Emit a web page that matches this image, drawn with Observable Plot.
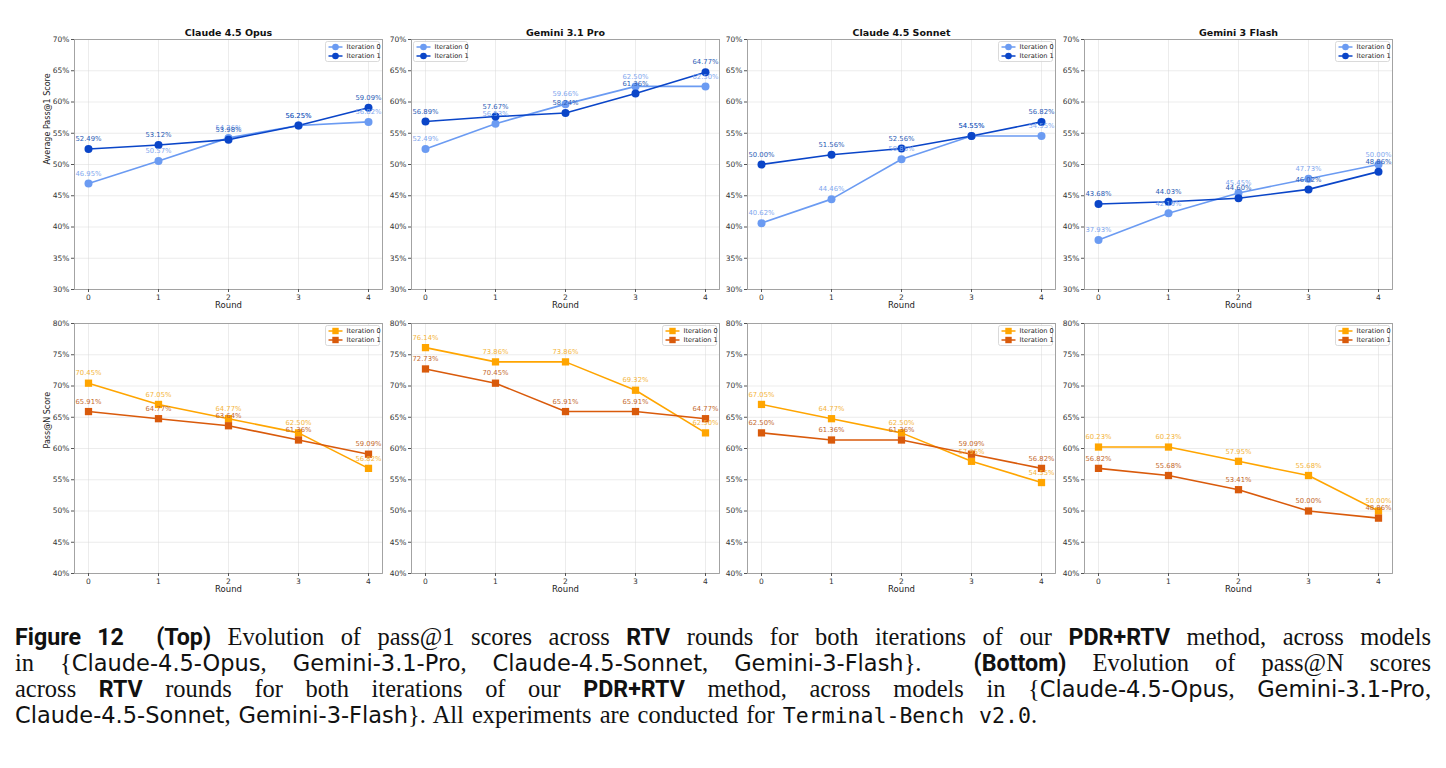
<!DOCTYPE html>
<html>
<head>
<meta charset="utf-8">
<script src="https://cdn.jsdelivr.net/npm/d3@7"></script>
<script src="https://cdn.jsdelivr.net/npm/@observablehq/plot@0.6"></script>
<style>
  html, body { margin: 0; padding: 0; background: #fff; }
  #root { position: relative; width: 1446px; height: 768px; overflow: hidden; }
  .panel { position: absolute; }
  .panel svg { background: transparent !important; overflow: visible; }
  #caption { position: absolute; left: 15px; top: 624px; width: 1416px; font-family: "Liberation Serif", "DejaVu Serif", serif; font-size: 20px; line-height: 26px; color: #111; }
  #caption .ln { white-space: nowrap; height: 26px; }
  #caption .ln span.inner { display: inline-block; }
  #caption b { font-family: "Roboto", "Inter", sans-serif; font-weight: 700; font-size: 0.95em; }
  #caption .sf { font-family: "DejaVu Sans", "Noto Sans", sans-serif; font-size: 0.92em; }
  #caption .tt { font-family: "DejaVu Sans Mono", "Liberation Mono", monospace; font-size: 0.88em; }
</style>
</head>
<body>
<div id="root">
  <div id="caption">
    <div class="ln" data-w="1416"><b>Figure 12&nbsp; (Top)</b> Evolution of pass@1 scores across <b>RTV</b> rounds for both iterations of our <b>PDR+RTV</b> method, across models</div>
    <div class="ln" data-w="1416">in {<span class="sf">Claude-4.5-Opus</span>, <span class="sf">Gemini-3.1-Pro</span>, <span class="sf">Claude-4.5-Sonnet</span>, <span class="sf">Gemini-3-Flash</span>}. &nbsp;<b>(Bottom)</b> Evolution of pass@N scores</div>
    <div class="ln" data-w="1416">across <b>RTV</b> rounds for both iterations of our <b>PDR+RTV</b> method, across models in {<span class="sf">Claude-4.5-Opus</span>, <span class="sf">Gemini-3.1-Pro</span>,</div>
    <div class="ln" data-w="1022"><span class="sf">Claude-4.5-Sonnet</span>, <span class="sf">Gemini-3-Flash</span>}. All experiments are conducted for <span class="tt">Terminal-Bench v2.0</span>.</div>
  </div>
</div>
<script>
// ---------------- data ----------------
const rounds = [0, 1, 2, 3, 4];
const models = ["Claude 4.5 Opus", "Gemini 3.1 Pro", "Claude 4.5 Sonnet", "Gemini 3 Flash"];
const seriesNames = ["Iteration 0", "Iteration 1"];

// Average Pass@1 (%), one row per model
const pass1Iter0 = [
  [46.95, 50.57, 54.26, 56.25, 56.82],
  [52.49, 56.53, 59.66, 62.50, 62.50],
  [40.62, 44.46, 50.85, 54.55, 54.55],
  [37.93, 42.19, 45.45, 47.73, 50.00]
];
const pass1Iter1 = [
  [52.49, 53.12, 53.98, 56.25, 59.09],
  [56.89, 57.67, 58.24, 61.36, 64.77],
  [50.00, 51.56, 52.56, 54.55, 56.82],
  [43.68, 44.03, 44.60, 46.02, 48.86]
];
// Pass@N (%), one row per model
const passNIter0 = [
  [70.45, 67.05, 64.77, 62.50, 56.82],
  [76.14, 73.86, 73.86, 69.32, 62.50],
  [67.05, 64.77, 62.50, 57.95, 54.55],
  [60.23, 60.23, 57.95, 55.68, 50.00]
];
const passNIter1 = [
  [65.91, 64.77, 63.64, 61.36, 59.09],
  [72.73, 70.45, 65.91, 65.91, 64.77],
  [62.50, 61.36, 61.36, 59.09, 56.82],
  [56.82, 55.68, 53.41, 50.00, 48.86]
];
const yTicksTop = [30, 35, 40, 45, 50, 55, 60, 65, 70];
const yTicksBottom = [40, 45, 50, 55, 60, 65, 70, 75, 80];
const yLabels = ["Average Pass@1 Score", "Pass@N Score"];
const xLabel = "Round";

// ---------------- style ----------------
const blue = ["#6b9bf2", "#0a45c8"];
const blueText = ["#7fa7ee", "#2b5cb5"];
const orange = ["#ffa500", "#d95a0b"];
const orangeText = ["#f4b43a", "#c4692c"];
const FONT = "DejaVu Sans, sans-serif";
const frameLeft = [74, 411, 747, 1084];
const rowTop = [18, 302];
const ML = 36, MR = 4, MT = 21, MB = 26, FW = 308, FH = 250;

function legendMark(colors, symbol, loc) {
  return (index, scales, values, dims) => {
    const g = d3.create("svg:g").attr("font-family", FONT).attr("font-size", 6.6).attr("text-anchor", "start");
    const bw = 54, bh = 20;
    const x0 = loc === "left" ? dims.marginLeft + 2.5 : dims.width - dims.marginRight - bw - 2.5;
    const y0 = dims.marginTop + 2.5;
    g.append("rect").attr("x", x0).attr("y", y0).attr("width", bw).attr("height", bh)
      .attr("rx", 2).attr("fill", "white").attr("fill-opacity", 0.85)
      .attr("stroke", "#d0d0d0").attr("stroke-width", 0.8);
    seriesNames.forEach((name, i) => {
      const cy = y0 + 5.5 + i * 9;
      g.append("line").attr("x1", x0 + 3).attr("x2", x0 + 17).attr("y1", cy).attr("y2", cy)
        .attr("stroke", colors[i]).attr("stroke-width", 1.5);
      if (symbol === "circle") {
        g.append("circle").attr("cx", x0 + 10).attr("cy", cy).attr("r", 3.3).attr("fill", colors[i]);
      } else {
        g.append("rect").attr("x", x0 + 10 - 3.2).attr("y", cy - 3.2).attr("width", 6.4).attr("height", 6.4).attr("fill", colors[i]);
      }
      g.append("text").attr("x", x0 + 21).attr("y", cy).attr("dy", "0.35em").attr("text-anchor", "start").attr("fill", "#222").text(name);
    });
    return g.node();
  };
}

function panel(row, col) {
  const it0 = row === 0 ? pass1Iter0[col] : passNIter0[col];
  const it1 = row === 0 ? pass1Iter1[col] : passNIter1[col];
  const colors = row === 0 ? blue : orange;
  const tcolors = row === 0 ? blueText : orangeText;
  const yTicks = row === 0 ? yTicksTop : yTicksBottom;
  const symbol = row === 0 ? "circle" : "square";
  const data = [];
  rounds.forEach((r, i) => data.push({round: r, value: it0[i], series: seriesNames[0]}));
  rounds.forEach((r, i) => data.push({round: r, value: it1[i], series: seriesNames[1]}));
  const legendLoc = (row === 0 && col === 1) ? "left" : "right";

  const marks = [
    Plot.gridX(rounds, {stroke: "#d8d8d8", strokeOpacity: 0.8, strokeWidth: 0.6}),
    Plot.gridY(yTicks, {stroke: "#d8d8d8", strokeOpacity: 0.8, strokeWidth: 0.6}),
    Plot.frame({stroke: "#9a9a9a", strokeWidth: 0.9}),
    Plot.axisX(rounds, {tickSize: 3, tickPadding: 2, fontSize: 7.5, label: null, stroke: "#555", fill: "#333", fontFamily: FONT}),
    Plot.axisY(yTicks, {tickSize: 3, tickPadding: 2, fontSize: 7.5, label: null, tickFormat: d => d + "%", stroke: "#555", fill: "#333", fontFamily: FONT}),
    Plot.line(data, {x: "round", y: "value", z: "series", stroke: "series", strokeWidth: 1.6}),
    Plot.dot(data, {x: "round", y: "value", fill: "series", symbol: () => symbol, r: symbol === "circle" ? 4 : 4.1, stroke: null}),
    Plot.text(data, {x: "round", y: "value", text: d => d.value.toFixed(2) + "%", dy: -10,
      fill: d => tcolors[seriesNames.indexOf(d.series)], fontSize: 6.8, fontFamily: FONT}),
    Plot.text([xLabel], {frameAnchor: "bottom", dy: 18, fontSize: 8.5, fill: "#222", fontFamily: FONT}),
    legendMark(colors, symbol, legendLoc)
  ];
  if (row === 0) {
    marks.push(Plot.text([models[col]], {frameAnchor: "top", dy: -10, fontSize: 9.5, fontWeight: "bold", fill: "#111", fontFamily: FONT}));
  }
  if (col === 0) {
    marks.push(Plot.text([yLabels[row]], {frameAnchor: "left", rotate: -90, dx: -27, fontSize: 8, fill: "#222", fontFamily: FONT}));
  }
  const chart = Plot.plot({
    width: ML + FW + MR, height: MT + FH + MB,
    marginLeft: ML, marginRight: MR, marginTop: MT, marginBottom: MB,
    style: {background: "transparent", fontFamily: FONT, overflow: "visible"},
    x: {domain: [-0.2, 4.2], axis: null},
    y: {domain: [yTicks[0], yTicks[yTicks.length - 1]], axis: null},
    color: {domain: seriesNames, range: colors},
    marks
  });
  const div = document.createElement("div");
  div.className = "panel";
  div.style.left = (frameLeft[col] - ML) + "px";
  div.style.top = rowTop[row] + "px";
  div.appendChild(chart);
  document.getElementById("root").appendChild(div);
}

for (let row = 0; row < 2; row++) for (let col = 0; col < 4; col++) panel(row, col);

// ---------------- caption fitting: pick a font size whose natural line widths match ----------------
(function fitCaption() {
  const cap = document.getElementById("caption");
  const lines = Array.from(cap.querySelectorAll(".ln"));
  lines.forEach(ln => {
    const inner = document.createElement("span");
    inner.className = "inner";
    while (ln.firstChild) inner.appendChild(ln.firstChild);
    ln.appendChild(inner);
  });
  const base = 20;
  cap.style.fontSize = base + "px";
  let factor = Infinity;
  lines.forEach(ln => {
    const w = ln.querySelector(".inner").getBoundingClientRect().width;
    const target = +ln.dataset.w;
    factor = Math.min(factor, (target * 0.985) / w);
  });
  factor = Math.max(0.8, Math.min(1.3, factor));
  cap.style.fontSize = (base * factor) + "px";
  lines.forEach(ln => {
    const inner = ln.querySelector(".inner");
    while (inner.firstChild) ln.insertBefore(inner.firstChild, inner);
    inner.remove();
    ln.style.width = ln.dataset.w + "px";
    ln.style.textAlign = "justify";
    ln.style.textAlignLast = "justify";
  });
})();
</script>
</body>
</html>
